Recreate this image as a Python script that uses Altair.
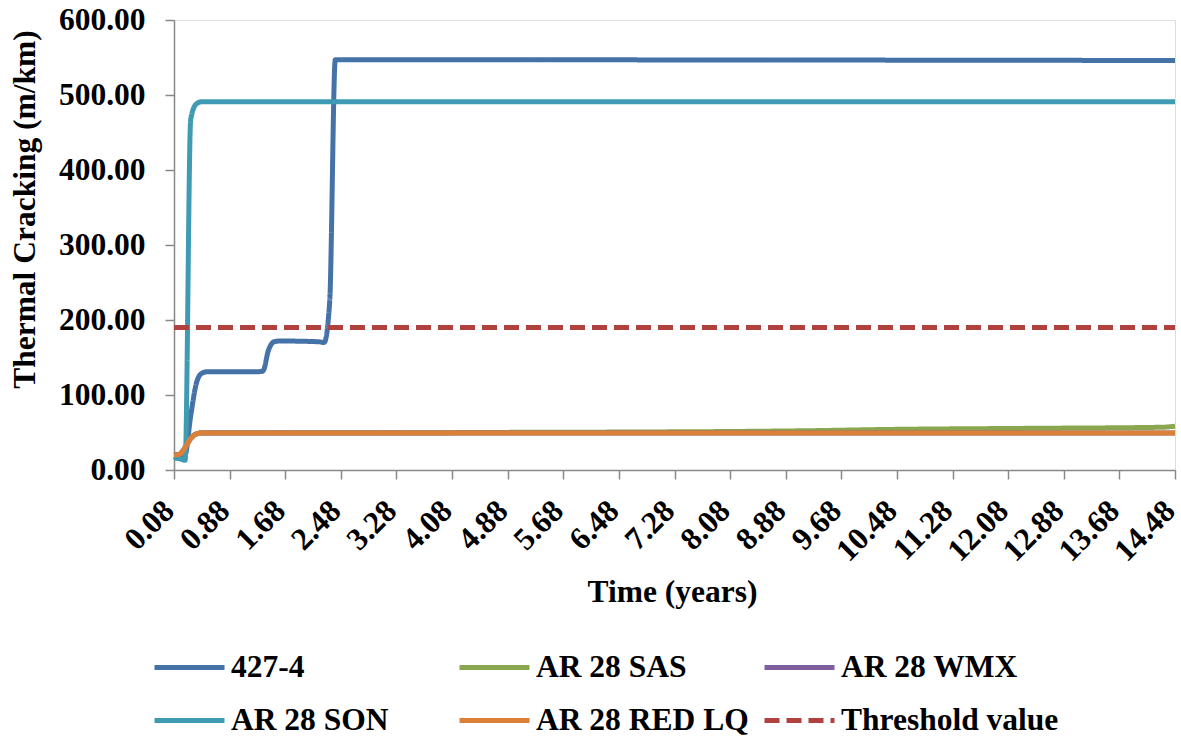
import altair as alt
import pandas as pd

# Series names (legend order)
series_names = ["427-4", "AR 28 SAS", "AR 28 WMX", "AR 28 SON", "AR 28 RED LQ", "Threshold value"]
series_colors = ["#4572A7", "#8AA64E", "#7D5FA0", "#3F9AB3", "#DB8038", "#B0413E"]

# Breakpoints (time in years, thermal cracking in m/km)
t_4274 = [0.08, 0.16, 0.24, 0.32, 0.40, 0.48, 0.56, 1.28, 1.36, 1.44, 1.52, 1.60, 2.16, 2.24, 2.32, 2.40, 2.48, 14.48]
v_4274 = [18, 16, 20, 72, 115, 129, 131, 131, 132, 160, 171, 172, 171, 170, 225, 547, 547, 546]

t_sas = [0.08, 0.16, 0.24, 0.32, 0.40, 0.48, 3.6, 4.4, 6.3, 8.3, 9.3, 10.3, 12.3, 14.3, 14.48]
v_sas = [20, 21, 30, 42, 48, 49.5, 49.6, 50, 50.5, 51.5, 52.5, 54, 55.5, 57, 58.5]

t_wmx = [0.08, 0.16, 0.24, 0.32, 0.40, 0.48, 14.48]
v_wmx = [20, 21, 30, 42, 48, 49.5, 49.5]

t_son = [0.08, 0.16, 0.24, 0.32, 0.40, 0.48, 14.48]
v_son = [16, 15, 13, 467, 488, 491, 491]

t_red = [0.08, 0.16, 0.24, 0.32, 0.40, 0.48, 14.48]
v_red = [20, 21, 30, 42, 48, 49.5, 49.5]

t_thr = [0.08, 14.48]
v_thr = [190, 190]

x_ticks = [0.08, 0.88, 1.68, 2.48, 3.28, 4.08, 4.88, 5.68, 6.48, 7.28, 8.08, 8.88,
           9.68, 10.48, 11.28, 12.08, 12.88, 13.68, 14.48]
y_ticks = [0, 100, 200, 300, 400, 500, 600]

series_data = [
    (series_names[0], t_4274, v_4274),
    (series_names[1], t_sas, v_sas),
    (series_names[2], t_wmx, v_wmx),
    (series_names[3], t_son, v_son),
    (series_names[4], t_red, v_red),
    (series_names[5], t_thr, v_thr),
]

rows = []
for name, ts, vs in series_data:
    for t, v in zip(ts, vs):
        rows.append({"series": name, "time": t, "value": v})
df = pd.DataFrame(rows)

FONT = "Liberation Serif"
FS = 31.5
dash_range = [[1, 0], [1, 0], [1, 0], [1, 0], [1, 0], [15, 7]]


def make_legend():
    return alt.Legend(
        title=None,
        orient="none",
        legendX=-22,
        legendY=610,
        columns=3,
        direction="horizontal",
        gridAlign="all",
        columnPadding=0,
        rowPadding=-17,
        symbolType="stroke",
        symbolSize=4900,
        symbolStrokeWidth=5,
        labelFont=FONT,
        labelFontSize=FS,
        labelFontWeight="bold",
        labelColor="black",
        labelOffset=4,
        labelLimit=400,
    )


color_enc = alt.Color(
    "series:N",
    scale=alt.Scale(domain=series_names, range=series_colors),
    legend=make_legend(),
)
dash_enc = alt.StrokeDash(
    "series:N",
    scale=alt.Scale(domain=series_names, range=dash_range),
    legend=make_legend(),
)

x_enc = alt.X(
    "time:Q",
    scale=alt.Scale(domain=[0.08, 14.48], nice=False, zero=False),
    axis=alt.Axis(
        title="Time (years)",
        values=x_ticks,
        format=".2f",
        labelAngle=-45,
        labelAlign="right",
        labelBaseline="middle",
        labelPadding=27,
        labelOffset=-5,
        labelFont=FONT,
        labelFontSize=FS,
        labelFontWeight="bold",
        labelColor="black",
        labelOverlap=False,
        labelFlush=False,
        tickSize=9,
        tickColor="#888888",
        tickWidth=1.5,
        domainColor="#888888",
        domainWidth=1.5,
        grid=False,
        titleFont=FONT,
        titleFontSize=FS,
        titleFontWeight="bold",
        titleColor="black",
        titleY=131,
        titleX=498,
        titleBaseline="alphabetic",
        titleAlign="center",
    ),
)
y_enc = alt.Y(
    "value:Q",
    scale=alt.Scale(domain=[0, 600], nice=False),
    axis=alt.Axis(
        title="Thermal Cracking (m/km)",
        values=y_ticks,
        format=".2f",
        labelFont=FONT,
        labelFontSize=FS,
        labelFontWeight="bold",
        labelColor="black",
        labelPadding=20,
        tickSize=9,
        tickColor="#888888",
        tickWidth=1.5,
        domainColor="#888888",
        domainWidth=1.5,
        grid=False,
        titleFont=FONT,
        titleFontSize=FS,
        titleFontWeight="bold",
        titleColor="black",
        titleAngle=-90,
        titleX=-140,
        titleY=189,
        titleBaseline="alphabetic",
        titleAlign="center",
    ),
)

layers = []
for name in series_names:
    layer = (
        alt.Chart(df)
        .transform_filter(alt.datum.series == name)
        .mark_line(strokeWidth=5, interpolate="monotone", strokeJoin="round")
        .encode(x=x_enc, y=y_enc, color=color_enc, strokeDash=dash_enc)
    )
    layers.append(layer)

chart = (
    alt.layer(*layers)
    .properties(
        width=1001,
        height=450,
        autosize="none",
        padding={"left": 174, "top": 20, "right": 6, "bottom": 266},
    )
    .configure_view(stroke=None)
    .configure(background="white")
)

chart.save("out.html", embed_options={"renderer": "svg", "actions": False})
